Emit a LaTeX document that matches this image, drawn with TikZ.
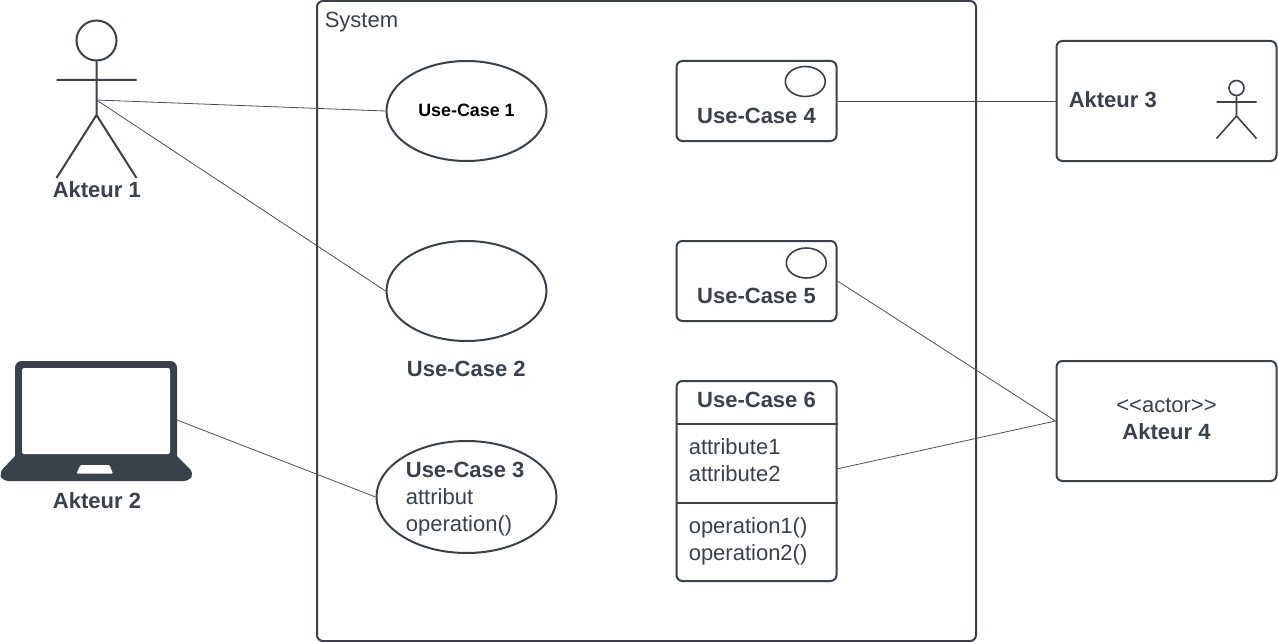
\documentclass[tikz,border=0pt]{standalone}
\usepackage{fontspec}
\setmainfont{Liberation Sans}
\usetikzlibrary{shapes.geometric,calc}
\definecolor{ink}{HTML}{3A414A}
\definecolor{wire}{HTML}{4A5058}
\newcommand{\txtB}{\fontsize{16.5}{20.25}\selectfont\bfseries}
\newcommand{\txtR}{\fontsize{16.5}{20.25}\selectfont}
\tikzset{
  box/.style={draw=ink,line width=1.5pt,rounded corners=4.5pt,inner sep=0pt,fill=white},
  oval/.style={draw=ink,line width=1.5pt,ellipse,inner sep=0pt,fill=white},
  wirelink/.style={draw=wire,line width=.6pt},
  limb/.style={draw=ink,line width=1.5pt},
  lab/.style={text=ink,inner sep=0pt,font=\txtB},
  plain/.style={text=ink,inner sep=0pt,font=\txtR,align=left},
}
\begin{document}
\begin{tikzpicture}[x=.75pt,y=-.75pt]
\useasboundingbox (0,0) rectangle (1278,642);
\fill[white] (0,0) rectangle (1278,642);
% system
\node[box,minimum width=494.25pt,minimum height=480pt] (sys) at (646.5,321) {};
\node[plain,anchor=west] (systxt) at (324.5,22) {System};
% use cases
\node[oval,minimum width=120pt,minimum height=75pt] (uc1) at (466.5,111) {};
\node[text=black,inner sep=0pt,font=\fontsize{13.4}{16}\selectfont\bfseries] (uc1t) at (466.5,110.5) {Use-Case 1};
\node[oval,minimum width=120pt,minimum height=75pt] (uc2) at (466.5,291) {};
\node[lab] (uc2t) at (466.3,369.3) {Use-Case 2};
\node[oval,minimum width=135pt,minimum height=84pt] (uc3) at (466.5,497) {};
\node[plain,anchor=north west] (uc3t) at (405.6,462) {\textbf{Use-Case 3}\\attribut\\operation()};
\node[box,minimum width=120pt,minimum height=60pt] (uc4) at (756.5,101) {};
\node[oval,line width=1.2pt,minimum width=30pt,minimum height=22.5pt] (uc4i) at (805.3,81.5) {};
\node[lab] (uc4t) at (756.5,116) {Use-Case 4};
\node[box,minimum width=120pt,minimum height=60pt] (uc5) at (756.5,281) {};
\node[oval,line width=1.2pt,minimum width=30pt,minimum height=22.5pt] (uc5i) at (806.3,263) {};
\node[lab] (uc5t) at (756.5,296) {Use-Case 5};
\node[box,minimum width=120pt,minimum height=150pt] (uc6) at (756.5,481) {};
\draw[limb] (uc6.west |- 0,423.5) coordinate (d1a) -- (uc6.east |- 0,423.5) coordinate (d1b);
\draw[limb] (uc6.west |- 0,502.5) coordinate (d2a) -- (uc6.east |- 0,502.5) coordinate (d2b);
\node[lab] (uc6t) at (756.5,400) {Use-Case 6};
\node[plain,anchor=north west] (uc6a) at (688.5,438.5) {attribute1\\attribute2};
\node[plain,anchor=north west] (uc6o) at (688.5,517) {operation1()\\operation2()};
% actor 3 box
\node[box,minimum width=165pt,minimum height=90pt] (a3) at (1166.5,101) {};
\node[lab,anchor=west] (a3t) at (1068.5,99.5) {Akteur 3};
\node[circle,draw=ink,line width=1.2pt,minimum size=11.25pt,inner sep=0pt] (a3h) at (1236.5,88) {};
\coordinate (a3hip) at (1236.5,116);
\draw[limb,line width=1.2pt] (a3h.south) -- (a3hip) (1216.5,102) -- (1256.5,102) (1216.5,138.5) -- (a3hip) -- (1256.5,138.5);
% actor 4 box
\node[box,minimum width=165pt,minimum height=90pt] (a4) at (1166.5,421) {};
\node[plain,align=center] (a4s) at (1166.5,405) {<{}<actor>{}>};
\node[lab] (a4t) at (1166.5,431.5) {Akteur 4};
% actor 1
\node[circle,draw=ink,line width=1.5pt,minimum size=30pt,inner sep=0pt] (a1h) at (96.5,40.5) {};
\coordinate (a1c) at (96.5,100);
\coordinate (a1hip) at (96.5,115);
\draw[limb] (a1h.south) -- (a1hip) (56.5,80) -- (136.5,80) (56.5,178) -- (a1hip) -- (136.5,178);
\node[lab] (a1t) at (96.8,190) {Akteur 1};
% laptop
\coordinate (lapR) at (177,420);
\fill[ink,rounded corners=5pt,even odd rule] (15,462) -- (15,361) -- (177,361) -- (177,462) -- cycle;
\fill[white,rounded corners=1.5pt] (22,454) -- (22,368) -- (170,368) -- (170,454) -- cycle;
\fill[ink] (15.5,455.5) -- (176.5,455.5) [rounded corners=4pt] -- (194,473) -- (189,481) -- (3,481) -- (-1,473) [sharp corners] -- cycle;
\fill[white,rounded corners=.8pt] (80.5,465) -- (109.5,465) -- (113,473.5) -- (76.5,473.5) -- cycle;
\node[lab] (a2t) at (97,501) {Akteur 2};
% connectors
\coordinate (uc6p) at (836.5,469);
\draw[wirelink] (a1c) -- (uc1.west);
\draw[wirelink] (a1c) -- (uc2.west);
\draw[wirelink] (lapR) -- (uc3.west);
\draw[wirelink] (uc4.east) -- (a3.west);
\draw[wirelink] (uc5.east) -- (a4.west);
\draw[wirelink] (uc6p) -- (a4.west);
\end{tikzpicture}
\end{document}
